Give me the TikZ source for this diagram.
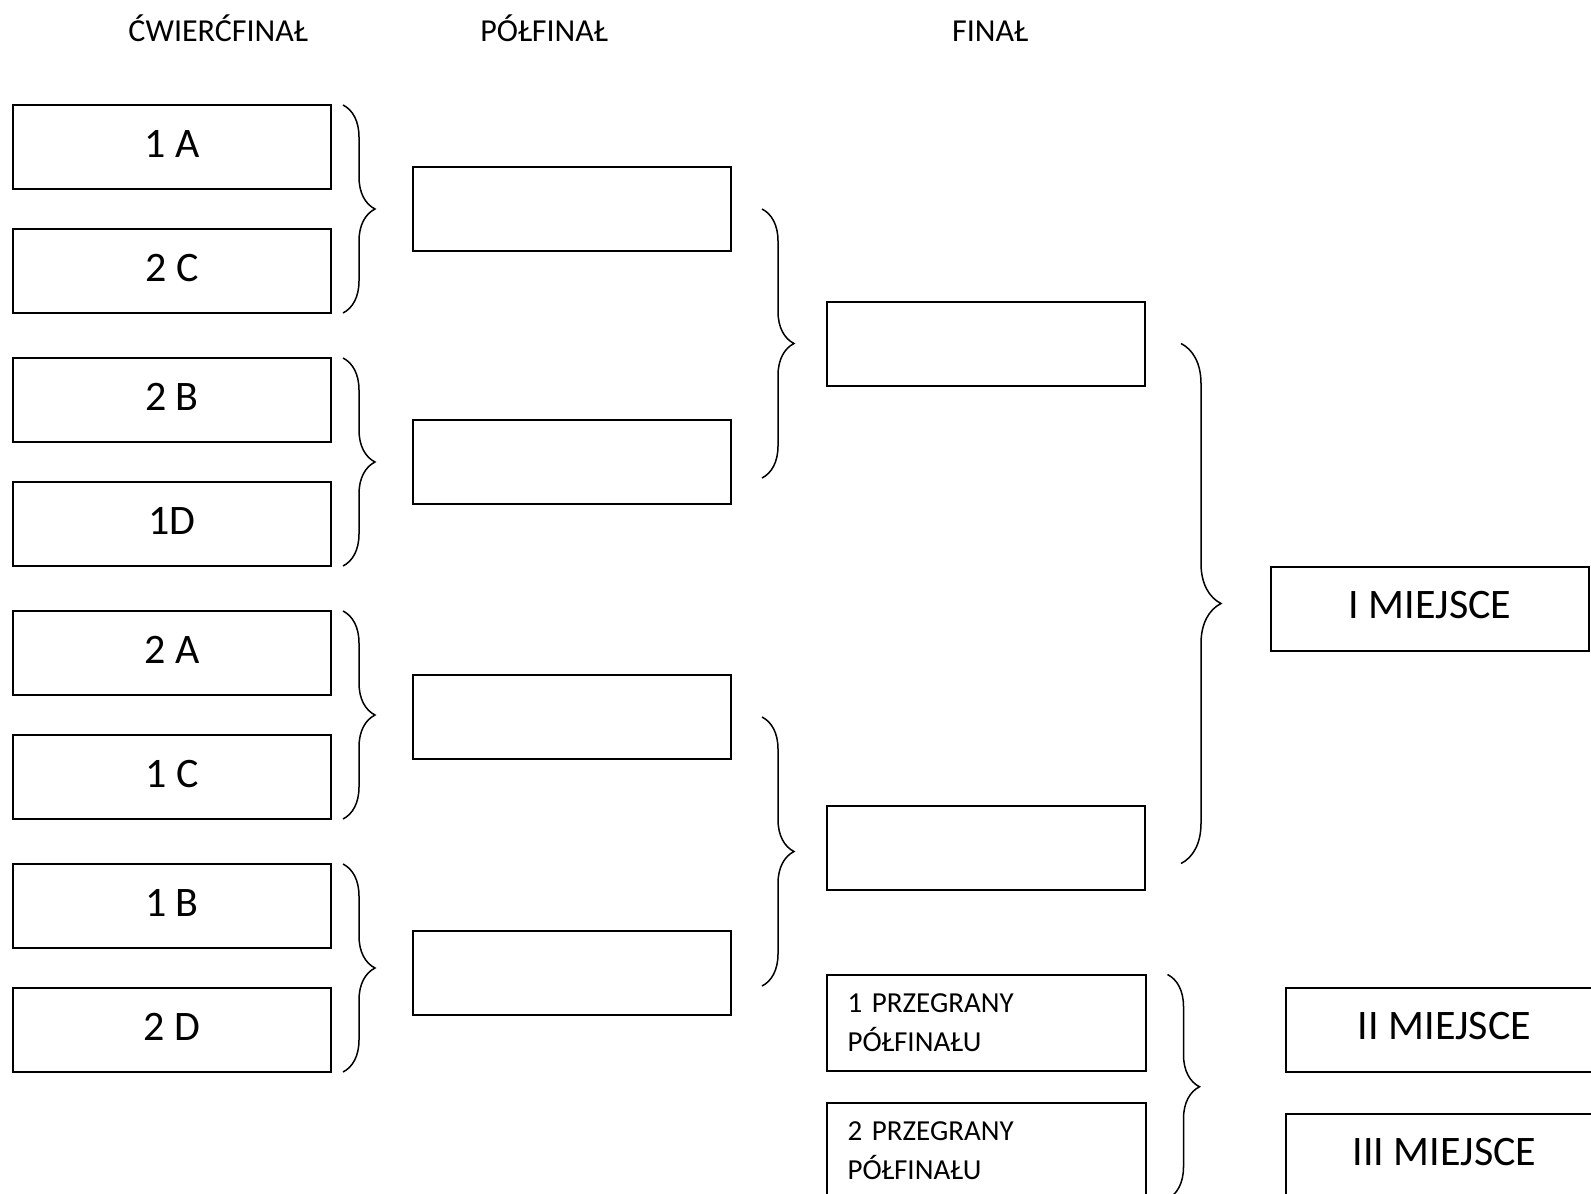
\documentclass[tikz,border=0pt]{standalone}
\usepackage{fontspec}
\setmainfont{Carlito}
\usetikzlibrary{positioning,calc,decorations.pathreplacing}

\begin{document}
\begin{tikzpicture}[node distance=20pt,
    team/.style={draw,line width=1pt,minimum width=159pt,minimum height=42pt,inner sep=0pt,
      outer sep=0pt,text height=13.5pt,text depth=3.5pt,
      font=\fontsize{21pt}{25pt}\selectfont},
    loser/.style={draw,line width=1pt,minimum width=159.5pt,minimum height=48.25pt,
      text width=138.5pt,inner xsep=10.5pt,inner ysep=0pt,outer sep=0pt,align=left,
      font=\fontsize{14.5pt}{19.5pt}\selectfont},
    stage/.style={anchor=base,font=\fontsize{16pt}{19pt}\selectfont},
    curly/.style={decorate,decoration={brace,amplitude=16pt},line width=0.75pt},
    curly big/.style={curly,decoration={brace,amplitude=20pt}}]

  \useasboundingbox (0,0) rectangle (795.5pt,-597pt);
  \clip (0,0) rectangle (795.5pt,-597pt);

  % column titles
  \node[stage] (tq) at (109pt,-20.5pt) {ĆWIERĆFINAŁ};
  \node[stage] (ts) at (272pt,-20.5pt) {PÓŁFINAŁ};
  \node[stage] (tf) at (495pt,-20.5pt) {FINAŁ};

  % quarter-finals
  \node[team] (q1) at (86pt,-73.5pt) {1 A};
  \node[team] (q2) [below=of q1] {2 C};
  \node[team] (q3) [below=22.5pt of q2] {2 B};
  \node[team] (q4) [below=of q3] {1D};
  \node[team] (q5) [below=22.5pt of q4] {2 A};
  \node[team] (q6) [below=of q5] {1 C};
  \node[team] (q7) [below=22.5pt of q6] {1 B};
  \node[team] (q8) [below=of q7] {2 D};

  \draw[curly] ([xshift=6pt]q1.north east) -- ([xshift=6pt]q2.south east);
  \draw[curly] ([xshift=6pt]q3.north east) -- ([xshift=6pt]q4.south east);
  \draw[curly] ([xshift=6pt]q5.north east) -- ([xshift=6pt]q6.south east);
  \draw[curly] ([xshift=6pt]q7.north east) -- ([xshift=6pt]q8.south east);

  % semi-finals
  \coordinate (m1) at ($(q1.east)!0.5!(q2.east)$);
  \coordinate (m2) at ($(q3.east)!0.5!(q4.east)$);
  \coordinate (m3) at ($(q5.east)!0.5!(q6.east)$);
  \coordinate (m4) at ($(q7.east)!0.5!(q8.east)$);
  \node[team] (s1) [right=41pt of m1] {};
  \node[team] (s2) [right=41pt of m2] {};
  \node[team] (s3) [right=41pt of m3, yshift=-1pt] {};
  \node[team] (s4) [right=41pt of m4, yshift=-2.5pt] {};

  \draw[curly] ([xshift=15.5pt]s1.east) -- ([xshift=15.5pt,yshift=-8pt]s2.east);
  \draw[curly] ([xshift=15.5pt]s3.east) -- ([xshift=15.5pt,yshift=-6.5pt]s4.east);

  % final
  \coordinate (n1) at ($(s1.east)!0.5!([yshift=-8pt]s2.east)$);
  \coordinate (n2) at ($(s3.east)!0.5!([yshift=-6.5pt]s4.east)$);
  \node[team] (f1) [right=48pt of n1] {};
  \node[team] (f2) [right=48pt of n2, yshift=2pt] {};

  \draw[curly big] ([xshift=18pt]f1.east) -- ([xshift=18pt,yshift=-8pt]f2.east);
  \coordinate (w1) at ($(f1.east)!0.5!([yshift=-8pt]f2.east)$);
  \node[team] (p1) [right=63pt of w1, yshift=-2.5pt] {I MIEJSCE};

  % match for third place
  \node[loser] (l1) [below=42.5pt of f2] {1 PRZEGRANY\\PÓŁFINAŁU};
  \node[loser] (l2) [below=15.75pt of l1] {2 PRZEGRANY\\PÓŁFINAŁU};

  \draw[curly] ([xshift=11pt]l1.north east) -- ([xshift=11pt]l2.south east);
  \node[team] (p2) [right=70pt of l1, yshift=-3.5pt] {II MIEJSCE};
  \node[team] (p3) [below=21pt of p2] {III MIEJSCE};

\end{tikzpicture}
\end{document}
